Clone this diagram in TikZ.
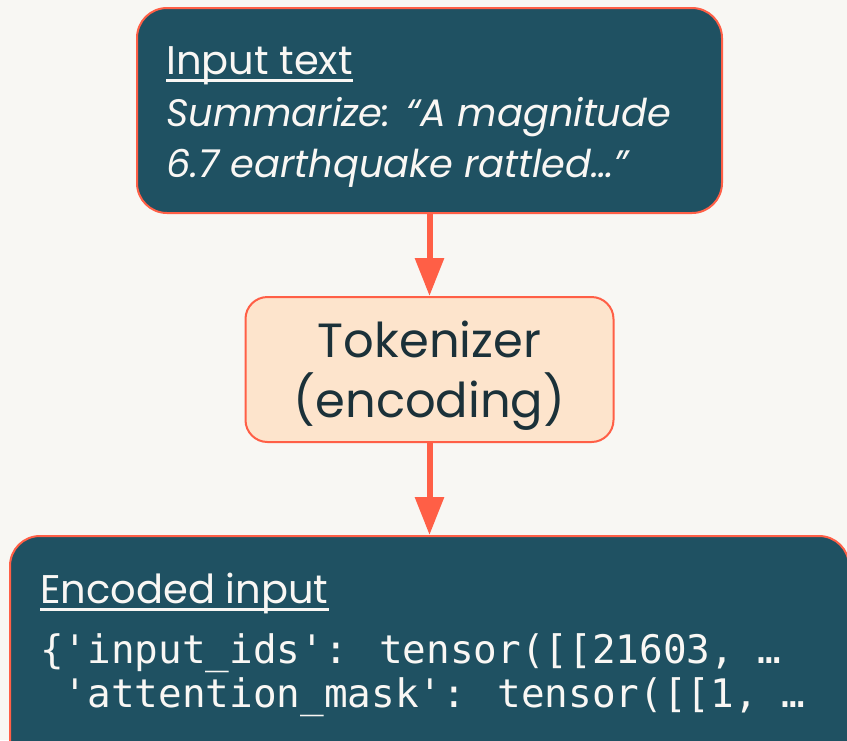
\documentclass[tikz,border=0pt]{standalone}
\usepackage{fontspec}
\setmainfont{Poppins}
\newfontfamily\codefont{DejaVu Sans Mono}
\usetikzlibrary{arrows.meta}
\definecolor{bgc}{HTML}{F8F7F3}
\definecolor{navy}{HTML}{1F5162}
\definecolor{lava}{HTML}{FF5F46}
\definecolor{peach}{HTML}{FDE4CC}
\definecolor{ink}{HTML}{1B3139}
\definecolor{light}{HTML}{F9F7F4}
\tikzset{
  darkbox/.style={draw=lava, line width=2pt, fill=navy, rounded corners=30pt, inner sep=0pt},
  lightbox/.style={draw=lava, line width=2pt, fill=peach, rounded corners=22pt, inner sep=0pt},
  arr/.style={draw=lava, line width=6pt, -{Triangle[width=28pt,length=38pt]}},
  ontext/.style={text=light, inner sep=0pt, font=\fontsize{40}{48}\selectfont},
  ittext/.style={text=light, inner sep=0pt, font=\fontsize{38.3}{46}\selectfont\itshape},
  tokentext/.style={text=ink, inner sep=0pt, font=\fontsize{48}{58}\selectfont},
  codetext/.style={text=light, inner sep=0pt, font=\codefont\fontsize{39.3}{47}\selectfont},
  uline/.style={draw=light, line width=3pt}
}
\begin{document}
\begin{tikzpicture}[x=1pt,y=-1pt]
\fill[bgc] (0,0) rectangle (847,740);
\useasboundingbox (0,0) rectangle (847,740);
\node[darkbox, minimum width=585pt, minimum height=205pt] (inbox) at (429.5,110.5) {};
\node[lightbox, minimum width=368pt, minimum height=145pt] (tok) at (429.5,369.5) {};
\node[darkbox, minimum width=839pt, minimum height=244pt] (enc) at (429.5,658) {};
\draw[arr] (inbox.south) -- (tok.north);
\draw[arr] (tok.south) -- (enc.north);
% input text
\node[ontext, anchor=base west] (t1) at (166,74) {Input text};
\draw[uline] ([yshift=-6pt]t1.base west) -- ([yshift=-6pt]t1.base east);
\node[ittext, anchor=base west] (t2) at (166,126) {Summarize: “A magnitude};
\node[ittext, anchor=base west] (t3) at (166,177) {6.7 earthquake rattled…”};
% tokenizer
\node[tokentext, anchor=base] (k1) at (429.5,357) {Tokenizer};
\node[tokentext, anchor=base] (k2) at (429.5,417) {(encoding)};
% encoded
\node[ontext, anchor=base west] (e1) at (40,603) {Encoded input};
\draw[uline] ([yshift=-6pt]e1.base west) -- ([yshift=-6pt]e1.base east);
\node[codetext, anchor=base west] (c1) at (40,663) {\{'input\_ids': tensor([[21603, …};
\node[codetext, anchor=base west] (c2) at (40,707) {\ 'attention\_mask': tensor([[1, …};
\end{tikzpicture}
\end{document}
